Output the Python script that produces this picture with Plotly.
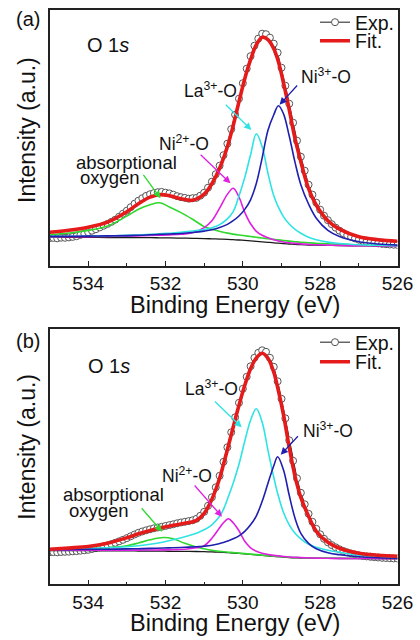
import plotly.graph_objects as go

# ---------------- data ----------------
# measured points, 0.1 eV step, shared by both panels
exp_energy = [535.0, 534.9, 534.8, 534.7, 534.6, 534.5, 534.4, 534.3, 534.2, 534.1,
              534.0, 533.9, 533.8, 533.7, 533.6, 533.5, 533.4, 533.3, 533.2, 533.1,
              533.0, 532.9, 532.8, 532.7, 532.6, 532.5, 532.4, 532.3, 532.2, 532.1,
              532.0, 531.9, 531.8, 531.7, 531.6, 531.5, 531.4, 531.3, 531.2, 531.1,
              531.0, 530.9, 530.8, 530.7, 530.6, 530.5, 530.4, 530.3, 530.2, 530.1,
              530.0, 529.9, 529.8, 529.7, 529.6, 529.5, 529.4, 529.3, 529.2, 529.1,
              529.0, 528.9, 528.8, 528.7, 528.6, 528.5, 528.4, 528.3, 528.2, 528.1,
              528.0, 527.9, 527.8, 527.7, 527.6, 527.5, 527.4, 527.3, 527.2, 527.1,
              527.0, 526.9, 526.8, 526.7, 526.6, 526.5, 526.4, 526.3, 526.2, 526.1,
              526.0]

exp_a = [27.5, 27.8, 27.4, 28.0, 27.9, 28.3, 28.8, 29.5, 30.8, 32.0,
         33.5, 35.0, 36.5, 38.3, 40.0, 41.8, 43.8, 46.0, 49.0, 52.0,
         55.0, 58.5, 62.0, 65.0, 67.5, 69.8, 71.5, 72.6, 73.5, 73.8,
         73.0, 72.3, 71.0, 69.5, 68.5, 67.8, 67.0, 67.5, 67.8, 70.0,
         73.0, 78.0, 84.0, 91.5, 100.0, 110.5, 122.0, 136.5, 151.0, 167.0,
         182.5, 197.0, 209.5, 220.0, 227.0, 232.0, 231.5, 228.0, 222.0, 213.0,
         198.0, 180.0, 162.0, 143.0, 125.0, 109.0, 95.0, 81.0, 71.0, 63.0,
         56.0, 50.0, 45.5, 41.5, 38.0, 35.0, 32.5, 30.5, 28.8, 27.3,
         26.0, 25.0, 24.2, 23.5, 22.8, 22.3, 21.8, 21.5, 21.2, 21.0,
         20.8]

exp_b = [32.0, 32.2, 32.0, 32.3, 32.5, 32.6, 33.0, 33.2, 33.6, 34.0,
         34.5, 35.3, 36.2, 37.0, 38.0, 39.0, 40.2, 41.5, 43.0, 44.5,
         46.2, 48.0, 49.8, 51.5, 52.8, 54.0, 55.0, 56.0, 56.8, 57.5,
         58.3, 59.2, 60.0, 61.0, 61.8, 62.5, 63.2, 64.0, 65.5, 68.5,
         72.5, 78.5, 87.0, 97.0, 108.5, 122.5, 137.0, 152.0, 167.0, 181.5,
         195.5, 207.5, 218.0, 226.5, 231.5, 234.0, 232.5, 226.5, 217.5, 203.0,
         185.5, 166.0, 144.0, 123.5, 106.0, 91.5, 80.0, 70.5, 62.5, 55.5,
         50.0, 45.5, 42.0, 39.2, 37.0, 35.0, 33.3, 32.0, 30.8, 29.8,
         29.0, 28.4, 27.9, 27.5, 27.1, 26.8, 26.5, 26.3, 26.1, 25.9,
         25.8]

# fitted curves, panel (a)
energy_a = [535.0, 534.5, 534.0, 533.5, 533.0, 532.7, 532.4, 532.15, 531.9, 531.6,
            531.3, 531.0, 530.8, 530.6, 530.4, 530.25, 530.1, 529.95, 529.8, 529.65,
            529.5, 529.35, 529.2, 529.08, 528.95, 528.8, 528.65, 528.5, 528.3, 528.1,
            527.8, 527.5, 527.0, 526.5, 526.0]
background_a = [28.5, 28.4, 28.3, 28.2, 28.1, 28.0, 28.0, 27.9, 27.8, 27.6,
                27.4, 27.1, 26.9, 26.6, 26.3, 26.0, 25.7, 25.3, 24.9, 24.4,
                23.9, 23.4, 22.9, 22.5, 22.1, 21.7, 21.3, 21.0, 20.7, 20.5,
                20.3, 20.1, 19.9, 19.7, 19.6]
oxygen_a = [30.8, 32.7, 35.3, 39.7, 49.6, 56.5, 61.0, 62.9, 58.8, 53.1,
            46.4, 39.1, 36.4, 34.4, 32.6, 31.6, 30.7, 29.9, 29.2, 28.4,
            27.7, 27.0, 26.3, 25.8, 25.2, 24.6, 24.0, 23.5, 22.9, 22.4,
            21.9, 21.4, 20.8, 20.3, 20.0]
ni2_a = [28.9, 29.0, 29.1, 29.3, 29.6, 29.8, 30.2, 30.5, 30.8, 31.4,
         32.9, 38.1, 44.9, 57.6, 71.3, 77.5, 68.7, 53.3, 41.9, 34.4,
         30.4, 28.0, 25.9, 24.7, 23.7, 22.9, 22.3, 21.8, 21.3, 20.9,
         20.6, 20.3, 20.0, 19.8, 19.6]
la3_a = [29.3, 29.4, 29.6, 29.9, 30.3, 30.7, 31.3, 31.8, 32.5, 33.4,
         34.7, 36.1, 37.9, 41.1, 46.8, 54.0, 69.7, 88.3, 110.9, 131.9,
         118.9, 92.4, 69.9, 58.5, 49.1, 41.7, 36.3, 32.5, 28.5, 26.0,
         23.6, 22.2, 21.0, 20.4, 20.0]
ni3_a = [29.3, 29.4, 29.6, 29.8, 30.1, 30.4, 30.9, 31.3, 31.7, 32.2,
         33.2, 34.6, 35.9, 38.1, 41.3, 45.0, 49.7, 56.3, 65.9, 82.4,
         107.9, 135.4, 150.9, 160.0, 152.1, 129.7, 103.3, 81.0, 61.7, 47.5,
         35.3, 29.1, 23.9, 21.7, 20.6]
fit_a = [33.5, 35.5, 38.5, 43.5, 54.0, 62.0, 68.5, 71.0, 70.0, 67.0,
         65.5, 71.5, 82.0, 97.5, 119.0, 140.0, 164.0, 187.0, 206.0, 221.0,
         228.5, 226.0, 217.0, 204.0, 183.0, 156.0, 127.0, 104.0, 77.0, 60.5,
         45.0, 36.5, 29.0, 26.0, 24.5]

# fitted curves, panel (b)
energy_b = [535.0, 534.5, 534.0, 533.5, 533.0, 532.7, 532.4, 532.05, 531.8, 531.5,
            531.2, 531.0, 530.8, 530.6, 530.5, 530.37, 530.25, 530.1, 529.95, 529.8,
            529.65, 529.5, 529.35, 529.2, 529.1, 528.95, 528.8, 528.65, 528.5, 528.3,
            528.1, 527.8, 527.5, 527.0, 526.5, 526.0]
background_b = [33.8, 33.7, 33.6, 33.5, 33.4, 33.3, 33.2, 33.1, 33.0, 32.9,
                32.8, 32.6, 32.4, 32.1, 31.9, 31.6, 31.3, 30.9, 30.4, 29.9,
                29.4, 28.9, 28.4, 27.9, 27.6, 27.2, 26.8, 26.5, 26.3, 26.1,
                26.0, 25.9, 25.8, 25.7, 25.6, 25.5]
oxygen_b = [34.5, 34.9, 35.5, 36.6, 38.6, 41.3, 44.5, 46.8, 45.5, 41.0,
            37.3, 35.5, 34.0, 33.0, 32.6, 32.1, 31.7, 31.2, 30.7, 30.2,
            29.7, 29.2, 28.7, 28.2, 27.9, 27.5, 27.1, 26.8, 26.6, 26.4,
            26.3, 26.2, 26.1, 26.0, 25.9, 25.8]
ni2_b = [34.1, 34.1, 34.1, 34.1, 34.2, 34.2, 34.3, 34.4, 34.6, 35.0,
         36.5, 38.5, 46.0, 56.5, 61.5, 65.5, 61.5, 53.5, 43.0, 36.5,
         33.0, 31.0, 29.8, 28.9, 28.4, 27.8, 27.3, 27.0, 26.7, 26.4,
         26.2, 26.0, 25.9, 25.8, 25.7, 25.6]
la3_b = [34.8, 35.3, 35.9, 36.6, 37.6, 38.6, 40.0, 42.3, 44.5, 47.5,
         51.0, 54.5, 59.5, 68.0, 75.0, 88.0, 101.0, 120.0, 143.0, 164.0,
         175.5, 162.0, 134.0, 107.0, 91.0, 72.0, 59.5, 51.0, 45.5, 40.0,
         37.0, 34.0, 32.0, 29.0, 27.8, 27.0]
ni3_b = [34.5, 34.7, 34.9, 35.1, 35.4, 35.6, 35.9, 36.3, 36.6, 37.0,
         37.6, 38.1, 39.0, 40.8, 41.8, 43.5, 45.5, 48.5, 53.0, 59.5,
         68.5, 83.0, 101.0, 118.5, 127.5, 114.5, 89.0, 66.0, 51.0, 41.0,
         35.5, 31.5, 29.5, 27.5, 26.5, 26.0]
fit_b = [35.0, 36.3, 37.8, 41.0, 46.5, 50.5, 53.8, 57.0, 59.0, 61.0,
         64.0, 71.0, 85.0, 106.0, 120.0, 139.0, 157.0, 179.0, 199.0, 215.5,
         226.5, 231.0, 226.0, 212.0, 197.0, 170.0, 137.0, 108.0, 87.0, 68.0,
         53.0, 42.0, 36.0, 31.0, 29.0, 28.0]

tick_values = [534, 532, 530, 528, 526]
tick_labels = ["534", "532", "530", "528", "526"]
minor_tick_values = [533, 531, 529, 527]

# ---------------- styling ----------------
FONT = "Liberation Sans, Arial, Helvetica, sans-serif"
RED = "#e51b1b"
GREEN = "#2fd82f"
MAGENTA = "#e020e0"
CYAN = "#2fe3e3"
BLUE = "#1f1fb0"
BLACK = "#1a1a1a"

fig = go.Figure()


def add_panel(xa, ya, e_comp, bg, oxy, ni2, la3, ni3, fit, exp_vals, leg_exp, leg_fit):
    fig.add_trace(go.Scatter(
        x=exp_energy, y=exp_vals, mode="lines+markers", name="Exp.",
        line=dict(color=BLACK, width=1),
        marker=dict(symbol="circle", size=7, color="white",
                    line=dict(color="#555555", width=1)),
        xaxis=xa, yaxis=ya, legend=leg_exp, showlegend=True))
    for vals, col, w in [(bg, BLACK, 1.3), (oxy, GREEN, 1.6), (ni2, MAGENTA, 1.6),
                         (la3, CYAN, 1.6), (ni3, BLUE, 1.6)]:
        fig.add_trace(go.Scatter(
            x=e_comp, y=vals, mode="lines", line=dict(color=col, width=w, shape="spline"),
            xaxis=xa, yaxis=ya, showlegend=False, hoverinfo="skip"))
    fig.add_trace(go.Scatter(
        x=e_comp, y=fit, mode="lines", name="Fit.",
        line=dict(color=RED, width=3.6, shape="spline"),
        xaxis=xa, yaxis=ya, legend=leg_fit, showlegend=True))


add_panel("x", "y", energy_a, background_a, oxygen_a, ni2_a, la3_a, ni3_a, fit_a,
          exp_a, "legend", "legend2")
add_panel("x2", "y2", energy_b, background_b, oxygen_b, ni2_b, la3_b, ni3_b, fit_b,
          exp_b, "legend3", "legend4")

xdom = [49.5 / 420, 397.5 / 420]
xaxis_common = dict(
    range=[535, 526], domain=xdom, showgrid=False, zeroline=False,
    showline=True, mirror=True, linecolor="#222222", linewidth=1.5,
    ticks="inside", ticklen=5, tickwidth=1.2, tickcolor="#222222",
    tickvals=tick_values, ticktext=tick_labels,
    tickfont=dict(family=FONT, size=19, color="#111111"),
    minor=dict(tickvals=minor_tick_values, ticks="inside", ticklen=3,
               tickwidth=1.2, tickcolor="#222222"),
)
yaxis_common = dict(
    showgrid=False, zeroline=False, showline=True, mirror=True,
    linecolor="#222222", linewidth=1.5, ticks="", showticklabels=False,
)

legend_common = dict(
    bgcolor="rgba(0,0,0,0)", borderwidth=0, itemwidth=30,
    font=dict(family=FONT, size=19.5, color="#111111"),
    xanchor="left", yanchor="middle", x=315 / 420, itemclick=False,
    itemdoubleclick=False,
)

fig.update_layout(
    width=420, height=640,
    margin=dict(l=0, r=0, t=0, b=0, autoexpand=False),
    paper_bgcolor="white", plot_bgcolor="white",
    xaxis=dict(anchor="y", **xaxis_common),
    xaxis2=dict(anchor="y2", **xaxis_common),
    yaxis=dict(anchor="x", domain=[1 - 265.7 / 640, 1 - 10 / 640], range=[0, 255.7],
               **yaxis_common),
    yaxis2=dict(anchor="x2", domain=[1 - 584.3 / 640, 1 - 329.3 / 640], range=[0, 255],
                **yaxis_common),
    legend=dict(y=1 - 22.5 / 640, **legend_common),
    legend2=dict(y=1 - 41 / 640, **legend_common),
    legend3=dict(y=1 - 342.5 / 640, **legend_common),
    legend4=dict(y=1 - 362 / 640, **legend_common),
    showlegend=True,
)

annotations = []


def label(xr, yr, x, y, text, size, **kw):
    d = dict(xref=xr, yref=yr, x=x, y=y, text=text, showarrow=False,
             xanchor="center", yanchor="middle",
             font=dict(family=FONT, size=size, color="#111111"))
    d.update(kw)
    annotations.append(d)


def arrow(xr, yr, tip, tail, color):
    annotations.append(dict(
        xref=xr, yref=yr, axref=xr, ayref=yr, x=tip[0], y=tip[1], ax=tail[0], ay=tail[1],
        text="", showarrow=True, arrowhead=2, arrowsize=1.1, arrowwidth=1.3,
        arrowcolor=color, standoff=0, startstandoff=0))


# panel labels and axis titles (paper coordinates)
for ypix, tag in [(19, "(a)"), (341, "(b)")]:
    label("paper", "paper", 27.5 / 420, 1 - ypix / 640, tag, 20)
for ypix in [130, 446.7]:
    label("paper", "paper", 27 / 420, 1 - ypix / 640, "Intensity (a.u.)", 23, textangle=-90)
for ypix in [304.5, 623]:
    label("paper", "paper", 235 / 420, 1 - ypix / 640, "Binding Energy (eV)", 23.5)

# panel (a) labels
label("x", "y", 533.50, 220.7, "O 1<i>s</i>", 20)
label("x", "y", 527.85, 189.7, "Ni<sup>3+</sup>-O", 17.5)
label("x", "y", 530.83, 175.7, "La<sup>3+</sup>-O", 17.5)
label("x", "y", 531.52, 122.7, "Ni<sup>2+</sup>-O", 17.5)
label("x", "y", 533.02, 103.2, "absorptional", 18.5)
label("x", "y", 533.43, 88.2, "oxygen", 18.5)
arrow("x", "y", (529.05, 161.0), (528.56, 181.7), BLUE)
arrow("x", "y", (529.78, 135.7), (530.48, 162.4), CYAN)
arrow("x", "y", (530.32, 82.4), (531.13, 112.4), MAGENTA)
arrow("x", "y", (532.13, 67.4), (532.60, 92.4), GREEN)

# panel (b) labels
label("x2", "y2", 533.47, 218.6, "O 1<i>s</i>", 20)
label("x2", "y2", 527.79, 154.3, "Ni<sup>3+</sup>-O", 17.5)
label("x2", "y2", 530.80, 196.0, "La<sup>3+</sup>-O", 17.5)
label("x2", "y2", 531.45, 109.3, "Ni<sup>2+</sup>-O", 17.5)
label("x2", "y2", 533.34, 89.8, "absorptional", 18.5)
label("x2", "y2", 533.73, 73.8, "oxygen", 18.5)
arrow("x2", "y2", (529.02, 129.6), (528.54, 149.6), BLUE)
arrow("x2", "y2", (530.03, 157.0), (530.76, 184.3), CYAN)
arrow("x2", "y2", (530.54, 67.6), (531.28, 100.3), MAGENTA)
arrow("x2", "y2", (532.09, 52.6), (532.65, 77.6), GREEN)

fig.update_layout(annotations=annotations)

fig.write_html(
    "out.html",
    config={"displayModeBar": False},
    post_script="document.body.style.margin='0px';document.body.style.padding='0px';",
)
